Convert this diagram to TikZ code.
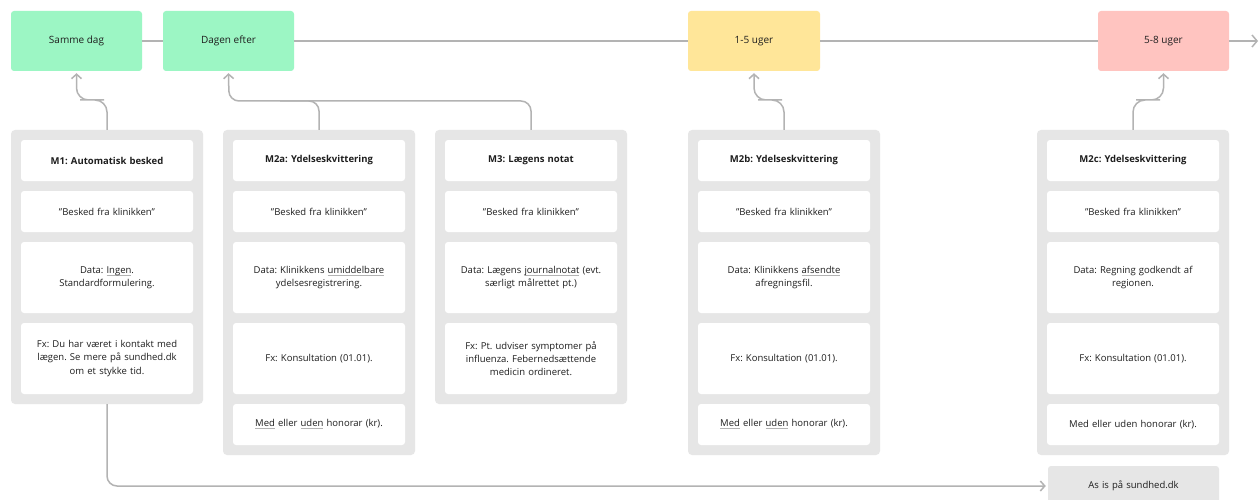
\documentclass[tikz,border=0pt]{standalone}
\usepackage{fontspec}
\setmainfont{Open Sans}
\usetikzlibrary{arrows.meta}
\definecolor{tlgreen}{HTML}{9CF6C4}
\definecolor{tlyellow}{HTML}{FFE699}
\definecolor{tlred}{HTML}{FFC4C0}
\definecolor{cardgray}{HTML}{E6E6E6}
\definecolor{linegray}{HTML}{B3B3B3}
\definecolor{ink}{HTML}{1E1E1E}
\newcommand\uw[1]{\leavevmode\setbox0\hbox{#1}\rlap{\textcolor{linegray}{\rule[-2.4pt]{\wd0}{0.9pt}}}\box0\relax}
\frenchspacing
\begin{document}
\begin{tikzpicture}[x=1pt,y=-1pt,
  tlbox/.style={rounded corners=3pt, minimum width=131pt, minimum height=60pt, inner sep=0pt,
    font=\fontsize{10}{12}\selectfont, text=ink},
  card/.style={fill=cardgray, rounded corners=4pt, minimum width=192pt, inner sep=0pt},
  cell/.style={fill=white, rounded corners=3pt, minimum width=172pt, text width=168pt, align=center,
    inner sep=0pt, font=\fontsize{9.5}{13.3}\selectfont\frenchspacing, text=ink},
  short/.style={cell, minimum height=41pt},
  tall/.style={cell, minimum height=71pt},
  conn/.style={draw=linegray, line width=1.5pt},
  tip/.style={-{Straight Barb[length=4.5pt,width=10pt]}, shorten >=2pt}
]
\useasboundingbox (0,0) rectangle (1260,500);
\clip (0,0) rectangle (1260,500);
\fill[white] (0,0) rectangle (1260,500);

% timeline boxes
\node[tlbox, fill=tlgreen] (samme) at (76.5,41) {Samme dag};
\node[tlbox, fill=tlgreen] (dagen) at (228.5,41) {Dagen efter};
\node[tlbox, fill=tlyellow, minimum width=132pt] (uge15) at (754,41) {1-5 uger};
\node[tlbox, fill=tlred] (uge58) at (1163.5,41) {5-8 uger};
\coordinate (tlend) at (1258,41);
\draw[conn] (samme) -- (dagen);
\draw[conn] (dagen) -- (uge15);
\draw[conn] (uge15) -- (uge58);
\draw[conn, -{Straight Barb[length=5pt,width=12pt]}] (uge58) -- (tlend);

% cards
\node[card, minimum height=274pt] (c1) at (107,267) {};
\node[card, minimum height=325pt] (c2) at (319,292.5) {};
\node[card, minimum height=274pt] (c3) at (531,267) {};
\node[card, minimum height=325pt] (c4) at (784,292.5) {};
\node[card, minimum height=325pt] (c5) at (1133,292.5) {};

% M1
\node[short] (m1a) at (107,160.5) {\textbf{M1: Automatisk besked}};
\node[short] (m1b) at (107,211.5) {"Besked fra klinikken"};
\node[tall]  (m1c) at (107,277.5) {Data: \uw{Ingen}.\\Standardformulering.};
\node[tall]  (m1d) at (107,358.5) {Fx: Du har været i kontakt med\\lægen. Se mere på sundhed.dk\\om et stykke tid.};

% M2a
\node[short] (m2a) at (319,160.5) {\textbf{M2a: Ydelseskvittering}};
\node[short] (m2b) at (319,211.5) {"Besked fra klinikken"};
\node[tall]  (m2c) at (319,277.5) {Data: Klinikkens \uw{umiddelbare}\\ydelsesregistrering.};
\node[tall]  (m2d) at (319,358.5) {Fx: Konsultation (01.01).};
\node[short] (m2e) at (319,424.5) {\uw{Med} eller \uw{uden} honorar (kr).};

% M3
\node[short] (m3a) at (531,160.5) {\textbf{M3: Lægens notat}};
\node[short] (m3b) at (531,211.5) {"Besked fra klinikken"};
\node[tall]  (m3c) at (531,277.5) {Data: Lægens \uw{journalnotat} (evt.\\særligt målrettet pt.)};
\node[tall]  (m3d) at (531,358.5) {Fx: Pt. udviser symptomer på\\influenza. Febernedsættende\\medicin ordineret.};

% M2b
\node[short] (m4a) at (784,160.5) {\textbf{M2b: Ydelseskvittering}};
\node[short] (m4b) at (784,211.5) {"Besked fra klinikken"};
\node[tall]  (m4c) at (784,277.5) {Data: Klinikkens \uw{afsendte}\\afregningsfil.};
\node[tall]  (m4d) at (784,358.5) {Fx: Konsultation (01.01).};
\node[short] (m4e) at (784,424.5) {\uw{Med} eller \uw{uden} honorar (kr).};

% M2c
\node[short] (m5a) at (1133,160.5) {\textbf{M2c: Ydelseskvittering}};
\node[short] (m5b) at (1133,211.5) {"Besked fra klinikken"};
\node[tall]  (m5c) at (1133,277.5) {Data: Regning godkendt af\\regionen.};
\node[tall]  (m5d) at (1133,358.5) {Fx: Konsultation (01.01).};
\node[short] (m5e) at (1133,424.5) {Med eller uden honorar (kr).};

% As is box
\node[cell, fill=cardgray, minimum width=171pt, minimum height=40pt] (asis) at (1133.5,486) {As is på sundhed.dk};

% connectors
\coordinate (k1) at (92,100);
\coordinate (k4) at (770,100);
\coordinate (k5) at (1148,100);
\coordinate (j) at (229,101);
\coordinate (j2) at (280,101);
\draw[conn, tip, rounded corners=12pt] (c1.north) |- (k1) -| (samme.south);
\draw[conn, tip, rounded corners=10pt] (c3.north) |- (j) -- (dagen.south);
\draw[conn, rounded corners=10pt] (c2.north) |- (j2);
\draw[conn, tip, rounded corners=12pt] (c4.north) |- (k4) -| (uge15.south);
\draw[conn, tip, rounded corners=12pt] (c5.north) |- (k5) -| (uge58.south);
\draw[conn, tip, rounded corners=10pt] (c1.south) |- (asis.west);
\end{tikzpicture}
\end{document}
